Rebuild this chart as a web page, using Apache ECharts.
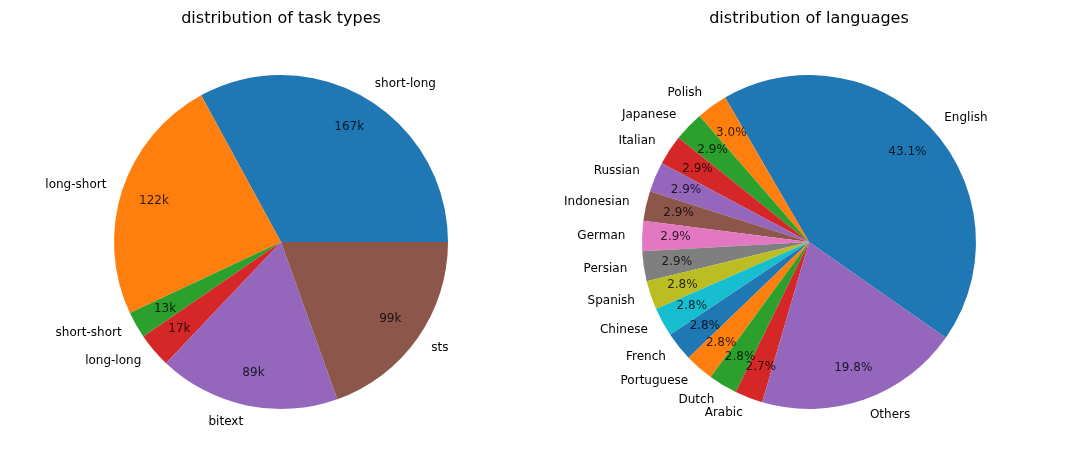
<!DOCTYPE html>
<html>
<head>
<meta charset="utf-8">
<script src="https://cdn.jsdelivr.net/npm/echarts@6/dist/echarts.min.js"></script>
<style>html,body{margin:0;padding:0;background:#fff;}#c{width:1087px;height:466px;}</style>
</head>
<body>
<div id="c"></div>
<script>
// Data
const taskTypes = ['short-long', 'long-short', 'short-short', 'long-long', 'bitext', 'sts'];
const taskCountsK = [167, 122, 13, 17, 89, 99];
const languages = ['English', 'Polish', 'Japanese', 'Italian', 'Russian', 'Indonesian', 'German', 'Persian', 'Spanish', 'Chinese', 'French', 'Portuguese', 'Dutch', 'Arabic', 'Others'];
const languageShares = [43.1, 3.0, 2.9, 2.9, 2.9, 2.9, 2.9, 2.9, 2.8, 2.8, 2.8, 2.8, 2.8, 2.7, 19.8];
const titles = ['distribution of task types', 'distribution of languages'];

const tab10 = ['#1f77b4', '#ff7f0e', '#2ca02c', '#d62728', '#9467bd', '#8c564b', '#e377c2', '#7f7f7f', '#bcbd22', '#17becf'];
const FONT = 'DejaVu Sans';
const R = 167;
const CY = 242;
const PCT_DIST = 0.8;

function pieSeries(names, values, cx, startAngle) {
  const data = names.map((n, i) => ({ name: n, value: values[i], itemStyle: { color: tab10[i % 10] } }));
  return {
    type: 'pie', center: [cx, CY], radius: [0, R], startAngle: startAngle, clockwise: false,
    avoidLabelOverlap: false, silent: true, animation: false,
    itemStyle: { borderWidth: 0 },
    label: { show: true, position: 'outside', fontFamily: FONT, fontSize: 12, color: '#000', distanceToLabelLine: 0, formatter: '{b}' },
    labelLine: { show: false, length: R * 0.1, length2: 0 },
    emphasis: { disabled: true },
    data: data
  };
}

// inner value labels: placed on a polar system sharing the pie's center, angle scale = cumulative values
function innerLabels(values, polarIndex, fmt) {
  let acc = 0;
  const pts = values.map(v => { const mid = acc + v / 2; acc += v; return [PCT_DIST, mid, v]; });
  return {
    type: 'scatter', coordinateSystem: 'polar', polarIndex: polarIndex, z: 5, silent: true, animation: false,
    symbolSize: 1, itemStyle: { color: 'rgba(0,0,0,0)' },
    encode: { radius: 0, angle: 1 },
    label: { show: true, position: 'inside', fontFamily: FONT, fontSize: 12, color: '#000', formatter: p => fmt(p.value[2]) },
    emphasis: { disabled: true },
    data: pts
  };
}

const sum = a => a.reduce((s, v) => s + v, 0);
const hiddenAxis = { axisLine: { show: false }, axisTick: { show: false }, axisLabel: { show: false }, splitLine: { show: false } };

const chart = echarts.init(document.getElementById('c'), null, { renderer: 'canvas' });
chart.setOption({
  backgroundColor: '#fff',
  animation: false,
  title: [
    { text: titles[0], left: 281, top: 11, padding: 0, textAlign: 'center', textStyle: { fontFamily: FONT, fontSize: 16, fontWeight: 'normal', color: '#000' } },
    { text: titles[1], left: 809, top: 11, padding: 0, textAlign: 'center', textStyle: { fontFamily: FONT, fontSize: 16, fontWeight: 'normal', color: '#000' } }
  ],
  polar: [
    { center: [281, CY], radius: [0, R] },
    { center: [809, CY], radius: [0, R] }
  ],
  angleAxis: [
    Object.assign({ polarIndex: 0, type: 'value', min: 0, max: sum(taskCountsK), startAngle: 0, clockwise: false }, hiddenAxis),
    Object.assign({ polarIndex: 1, type: 'value', min: 0, max: sum(languageShares), startAngle: -35, clockwise: false }, hiddenAxis)
  ],
  radiusAxis: [
    Object.assign({ polarIndex: 0, type: 'value', min: 0, max: 1 }, hiddenAxis),
    Object.assign({ polarIndex: 1, type: 'value', min: 0, max: 1 }, hiddenAxis)
  ],
  series: [
    pieSeries(taskTypes, taskCountsK, 281, 0),
    pieSeries(languages, languageShares, 809, -35),
    innerLabels(taskCountsK, 0, v => v + 'k'),
    innerLabels(languageShares, 1, v => v.toFixed(1) + '%')
  ]
});
</script>
</body>
</html>
